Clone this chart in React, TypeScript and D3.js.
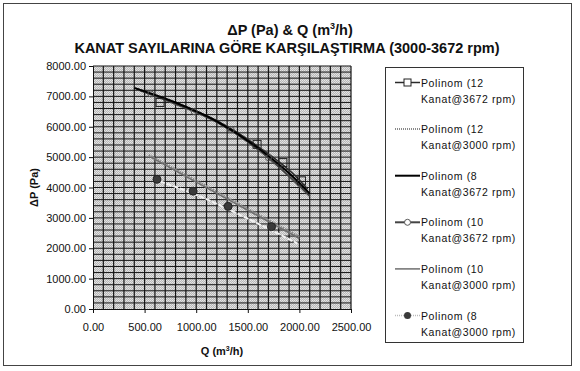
import React, { useRef, useEffect } from "react"
import * as d3 from "d3"

const W = 580
const H = 371

// trend lines, Q (m3/h) vs dP (Pa)
const q12_3672 = [450, 800, 1200, 1600, 2000, 2080]
const p12_3672 = [7200, 6780, 6200, 5350, 4250, 3950]
const q8_3672 = [400, 800, 1200, 1600, 2000, 2100]
const p8_3672 = [7280, 6800, 6180, 5300, 4150, 3800]
const q10_3672 = [420, 800, 1200, 1600, 2000, 2100]
const p10_3672 = [7250, 6750, 6150, 5250, 4050, 3720]
const q12_3000 = [540, 1000, 1500, 2000]
const p12_3000 = [5070, 4230, 3300, 2380]
const q10_3000 = [560, 1000, 1500, 2000]
const p10_3000 = [5000, 4180, 3250, 2320]
const q8_3000 = [650, 1000, 1300, 1700, 1980]
const p8_3000 = [4200, 3760, 3300, 2640, 2160]

// measured points (markers)
const mq12_3672 = [650, 1590, 1840, 2020]
const mp12_3672 = [6800, 5420, 4820, 4220]
const mq10_3672 = [560, 980, 1340, 1700]
const mp10_3672 = [7080, 6500, 5900, 4980]
const mq8_3000 = [620, 970, 1310, 1730]
const mp8_3000 = [4270, 3880, 3380, 2710]

const xTicks = [0, 500, 1000, 1500, 2000, 2500]
const yTicks = [0, 1000, 2000, 3000, 4000, 5000, 6000, 7000, 8000]

const legendNames = [
  ["Polinom (12", "Kanat@3672 rpm)"],
  ["Polinom (12", "Kanat@3000 rpm)"],
  ["Polinom (8", "Kanat@3672 rpm)"],
  ["Polinom (10", "Kanat@3672 rpm)"],
  ["Polinom (10", "Kanat@3000 rpm)"],
  ["Polinom (8", "Kanat@3000 rpm)"],
]

const FONT = "'Liberation Sans', Arial, sans-serif"

const App = () => {
  const ref = useRef<SVGSVGElement>(null)

  useEffect(() => {
    const svg = d3.select(ref.current)
    svg.selectAll("*").remove()

    const left = 93, right = 351, top = 66, bottom = 309
    const x = d3.scaleLinear().domain([0, 2500]).range([left, right])
    const y = d3.scaleLinear().domain([0, 8000]).range([bottom, top])

    // outer frame
    svg.append("rect").attr("x", 0).attr("y", 0).attr("width", W).attr("height", H).attr("fill", "#fff")
    svg.append("rect").attr("x", 3.5).attr("y", 3.5).attr("width", 568).attr("height", 362)
      .attr("fill", "none").attr("stroke", "#444").attr("stroke-width", 1)

    // stipple pattern for plot area
    const defs = svg.append("defs")
    const pat = defs.append("pattern").attr("id", "stip").attr("width", 2).attr("height", 2)
      .attr("patternUnits", "userSpaceOnUse")
    pat.append("rect").attr("width", 2).attr("height", 2).attr("fill", "#b8b8b8")
    pat.append("rect").attr("width", 1).attr("height", 1).attr("fill", "#e6e6e6")
    pat.append("rect").attr("x", 1).attr("y", 1).attr("width", 1).attr("height", 1).attr("fill", "#dcdcdc")

    svg.append("rect").attr("x", left).attr("y", top).attr("width", right - left).attr("height", bottom - top)
      .attr("fill", "url(#stip)")

    // grid: minor every 100 on x, every 200 on y
    const g = svg.append("g")
    g.selectAll("line.vx").data(d3.range(100, 2501, 100)).enter().append("line")
      .attr("x1", d => x(d)).attr("x2", d => x(d)).attr("y1", top).attr("y2", bottom)
      .attr("stroke", "#151515").attr("stroke-width", 1.2)
    g.selectAll("line.hy").data(d3.range(200, 8001, 200)).enter().append("line")
      .attr("x1", left).attr("x2", right).attr("y1", d => y(d)).attr("y2", d => y(d))
      .attr("stroke", "#151515").attr("stroke-width", 1)

    // axes
    const yAxis = svg.append("g").attr("transform", `translate(${left},0)`)
      .call(d3.axisLeft(y).tickValues(yTicks).tickFormat(d3.format(".2f")).tickSize(4).tickPadding(3))
    const xAxis = svg.append("g").attr("transform", `translate(0,${bottom})`)
      .call(d3.axisBottom(x).tickValues(xTicks).tickFormat(d3.format(".2f")).tickSize(4).tickPadding(10))
    ;[yAxis, xAxis].forEach(a => {
      a.selectAll("path").attr("stroke", "#111").attr("stroke-width", 1)
      a.selectAll("line").attr("stroke", "#111")
      a.selectAll("text").attr("font-family", FONT).attr("font-size", 11).attr("fill", "#111")
    })

    // series lines
    const line = d3.line<[number, number]>().x(d => x(d[0])).y(d => y(d[1])).curve(d3.curveMonotoneX)
    const pts = (qs: number[], ps: number[]) => qs.map((q, i) => [q, ps[i]] as [number, number])

    const series = [
      { d: pts(q12_3000, p12_3000), stroke: "#8a8a8a", w: 2, dash: "1.5,1" },
      { d: pts(q10_3000, p10_3000), stroke: "#6e6e6e", w: 1.5, dash: null },
      { d: pts(q8_3000, p8_3000), stroke: "#f2f2f2", w: 2, dash: "5,2" },
      { d: pts(q10_3672, p10_3672), stroke: "#444", w: 2, dash: null },
      { d: pts(q12_3672, p12_3672), stroke: "#2a2a2a", w: 1.5, dash: null },
      { d: pts(q8_3672, p8_3672), stroke: "#000", w: 2, dash: null },
    ]
    series.forEach(s => {
      const p = svg.append("path").attr("d", line(s.d)).attr("fill", "none")
        .attr("stroke", s.stroke).attr("stroke-width", s.w)
      if (s.dash) p.attr("stroke-dasharray", s.dash)
    })

    // markers
    svg.selectAll("rect.sq").data(pts(mq12_3672, mp12_3672)).enter().append("rect")
      .attr("x", d => x(d[0]) - 4).attr("y", d => y(d[1]) - 4).attr("width", 8).attr("height", 8)
      .attr("fill", "none").attr("stroke", "#222").attr("stroke-width", 1)
    svg.selectAll("circle.c10").data(pts(mq10_3672, mp10_3672)).enter().append("circle")
      .attr("cx", d => x(d[0])).attr("cy", d => y(d[1])).attr("r", 3)
      .attr("fill", "none").attr("stroke", "#555").attr("stroke-width", 1)
    svg.selectAll("circle.c8").data(pts(mq8_3000, mp8_3000)).enter().append("circle")
      .attr("cx", d => x(d[0])).attr("cy", d => y(d[1])).attr("r", 4)
      .attr("fill", "#3a3a3a").attr("stroke", "#222")

    // titles
    const t1 = svg.append("text").attr("x", 290).attr("y", 35).attr("text-anchor", "middle")
      .attr("font-family", FONT).attr("font-size", 14.5).attr("font-weight", "bold").attr("fill", "#111")
    t1.append("tspan").text("ΔP (Pa) & Q (m")
    t1.append("tspan").attr("dy", -6).attr("font-size", 9).text("3")
    t1.append("tspan").attr("dy", 6).text("/h)")
    svg.append("text").attr("x", 287).attr("y", 53).attr("text-anchor", "middle")
      .attr("font-family", FONT).attr("font-size", 14.5).attr("font-weight", "bold").attr("fill", "#111")
      .text("KANAT SAYILARINA GÖRE KARŞILAŞTIRMA (3000-3672 rpm)")

    const xt = svg.append("text").attr("x", (left + right) / 2).attr("y", 355).attr("text-anchor", "middle")
      .attr("font-family", FONT).attr("font-size", 11).attr("font-weight", "bold").attr("fill", "#111")
    xt.append("tspan").text("Q (m")
    xt.append("tspan").attr("dy", -4).attr("font-size", 7).text("3")
    xt.append("tspan").attr("dy", 4).text("/h)")

    svg.append("text").attr("transform", `translate(38,${(top + bottom) / 2}) rotate(-90)`)
      .attr("text-anchor", "middle").attr("font-family", FONT).attr("font-size", 11)
      .attr("font-weight", "bold").attr("fill", "#111").text("ΔP (Pa)")

    // legend
    svg.append("rect").attr("x", 385.5).attr("y", 67.5).attr("width", 138).attr("height", 275)
      .attr("fill", "#fff").attr("stroke", "#333")
    legendNames.forEach((nm, i) => {
      const cy = 82.5 + i * 46.6
      const s = [series[4], series[0], series[5], series[3], series[1], series[2]][i]
      const ln = svg.append("line").attr("x1", 395).attr("x2", 420).attr("y1", cy).attr("y2", cy)
        .attr("stroke", i === 5 ? "#bbb" : s.stroke).attr("stroke-width", i === 5 ? 1.5 : s.w)
      if (s.dash) ln.attr("stroke-dasharray", "1,1")
      if (i === 0) svg.append("rect").attr("x", 404).attr("y", cy - 3.5).attr("width", 7).attr("height", 7)
        .attr("fill", "#fff").attr("stroke", "#222")
      if (i === 3) svg.append("circle").attr("cx", 407.5).attr("cy", cy).attr("r", 3)
        .attr("fill", "#fff").attr("stroke", "#555")
      if (i === 5) svg.append("circle").attr("cx", 407.5).attr("cy", cy).attr("r", 3.5)
        .attr("fill", "#3a3a3a")
      const tx = svg.append("text").attr("font-family", FONT).attr("font-size", 10.5)
        .attr("letter-spacing", 0.6).attr("fill", "#111")
      tx.append("tspan").attr("x", 421).attr("y", cy + 4).text(nm[0])
      tx.append("tspan").attr("x", 421).attr("y", cy + 20).text(nm[1])
    })
  }, [])

  return (
    <svg ref={ref} width={W} height={H} style={{ position: "absolute", left: 0, top: 0 }} />
  )
}

export default App
